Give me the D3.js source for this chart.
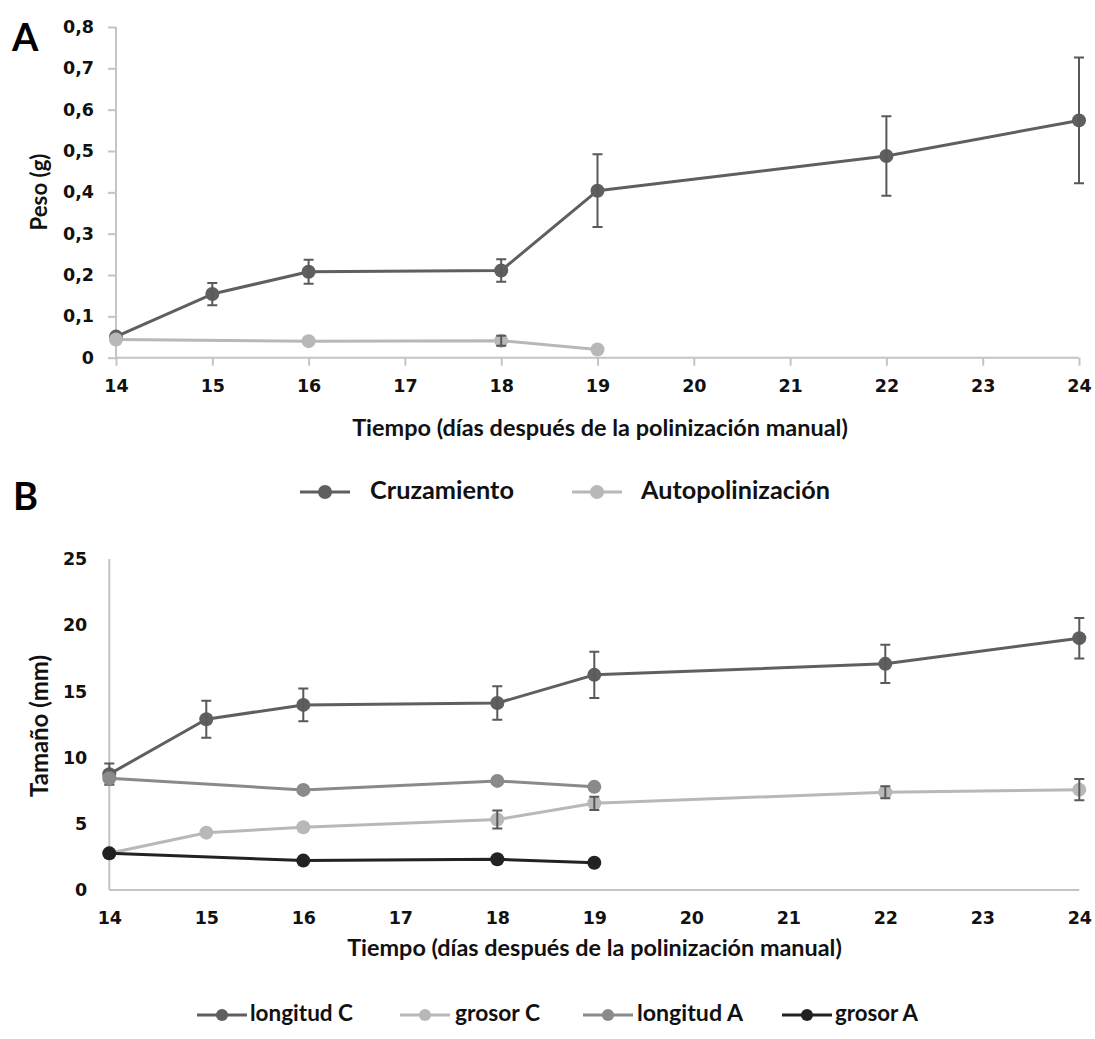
<!DOCTYPE html>
<html>
<head>
<meta charset="utf-8">
<script src="https://cdn.jsdelivr.net/npm/d3@7"></script>
<style>
  html, body { margin: 0; padding: 0; background: #fff; }
  svg { display: block; font-family: Lato, "Open Sans", sans-serif; font-weight: bold; }
</style>
</head>
<body>
<svg id="chart" width="1095" height="1039"></svg>
<script>
// ---------- DATA ----------
const xTicks = [14, 15, 16, 17, 18, 19, 20, 21, 22, 23, 24];

// Panel A: weight (g)
const cruzDays = [14, 15, 16, 18, 19, 22, 24];
const cruzPeso = [0.051, 0.154, 0.208, 0.211, 0.404, 0.488, 0.574];
const cruzErr  = [0.005, 0.027, 0.029, 0.027, 0.088, 0.096, 0.152];
const autoDays = [14, 16, 18, 19];
const autoPeso = [0.044, 0.040, 0.041, 0.020];
const autoErr  = [0.000, 0.000, 0.012, 0.000];
const yTicksA  = [0, 0.1, 0.2, 0.3, 0.4, 0.5, 0.6, 0.7, 0.8];

// Panel B: size (mm)
const longCDays = [14, 15, 16, 18, 19, 22, 24];
const longC     = [8.75, 12.9, 13.98, 14.12, 16.25, 17.08, 19.02];
const longCErr  = [0.8, 1.4, 1.23, 1.27, 1.74, 1.44, 1.53];
const grosCDays = [14, 15, 16, 18, 19, 22, 24];
const grosC     = [2.77, 4.33, 4.74, 5.32, 6.55, 7.38, 7.58];
const grosCErr  = [0, 0, 0, 0.68, 0.5, 0.45, 0.8];
const longADays = [14, 16, 18, 19];
const longA     = [8.44, 7.56, 8.24, 7.79];
const grosADays = [14, 16, 18, 19];
const grosA     = [2.77, 2.22, 2.32, 2.06];
const yTicksB   = [0, 5, 10, 15, 20, 25];

const seriesNamesA = ["Cruzamiento", "Autopolinización"];
const seriesNamesB = ["longitud C", "grosor C", "longitud A", "grosor A"];
const xTitle = "Tiempo (días después de la polinización manual)";

// ---------- STYLE ----------
const C_DARK = "#5f5f5f", C_LIGHT = "#b8b8b8", C_MID = "#8a8a8a", C_BLACK = "#222222";
const AXIS = "#c4c4c4", ERR = "#595959";
const TICK_FS = 17.5;

const svg = d3.select("#chart");

function fitText(sel, width) {
  const node = sel.node();
  const fs = parseFloat(sel.attr("font-size"));
  const w = node.getComputedTextLength();
  sel.attr("font-size", (fs * width / w).toFixed(2));
}

function drawSeries(g, x, y, xs, ys, errs, color, r) {
  const pts = xs.map((d, i) => ({x: d, y: ys[i], e: errs ? errs[i] : 0}));
  g.append("path").datum(pts)
    .attr("fill", "none").attr("stroke", color).attr("stroke-width", 3)
    .attr("stroke-linejoin", "round")
    .attr("d", d3.line().x(d => x(d.x)).y(d => y(d.y)));
  g.selectAll(null).data(pts).enter().append("circle")
    .attr("cx", d => x(d.x)).attr("cy", d => y(d.y)).attr("r", r).attr("fill", color);
  const eb = pts.filter(d => d.e > 0);
  const eg = g.append("g").attr("stroke", ERR).attr("stroke-width", 2).attr("fill", "none");
  eg.selectAll(null).data(eb).enter().append("path")
    .attr("d", d => {
      const cx = x(d.x), t = y(d.y + d.e), b = y(d.y - d.e);
      return `M${cx},${t}V${b}M${cx-5},${t}H${cx+5}M${cx-5},${b}H${cx+5}`;
    });
}

function styleAxis(a) {
  a.attr("font-size", TICK_FS).attr("font-family", "'DejaVu Sans', sans-serif");
  a.select(".domain").attr("stroke", AXIS).attr("stroke-width", 2);
  a.selectAll(".tick line").attr("stroke", AXIS).attr("stroke-width", 2);
  a.selectAll("text").attr("fill", "#111").attr("font-size", TICK_FS).attr("font-weight", "bold")
    .attr("font-family", "'DejaVu Sans', sans-serif");
}

// ---------- PANEL A ----------
{
  const x = d3.scaleLinear().domain([14, 24]).range([116, 1079]);
  const y = d3.scaleLinear().domain([0, 0.8]).range([357.7, 27]);
  const g = svg.append("g");

  const fmt = v => v === 0 ? "0" : d3.format(".1f")(v).replace(".", ",");
  const ya = g.append("g").attr("transform", "translate(116,0)")
    .call(d3.axisLeft(y).tickValues(yTicksA).tickSize(8).tickPadding(14).tickFormat(fmt));
  const xa = g.append("g").attr("transform", "translate(0,357.7)")
    .call(d3.axisBottom(x).tickValues(xTicks).tickSize(8).tickPadding(14).tickFormat(d3.format("d")));
  styleAxis(ya); styleAxis(xa);
  ya.select(".domain").attr("d", "M0,27V357.7");
  xa.select(".domain").attr("d", "M116,0H1079");

  drawSeries(g, x, y, cruzDays, cruzPeso, cruzErr, C_DARK, 7);
  drawSeries(g, x, y, autoDays, autoPeso, autoErr, C_LIGHT, 7);

  g.append("text").text("A").attr("x", 12).attr("y", 51)
    .attr("font-size", 38).attr("font-weight", "bold").attr("fill", "#000");

  const yl = g.append("text").text("Peso (g)").attr("transform", "translate(47,192) rotate(-90)")
    .attr("text-anchor", "middle").attr("font-size", 18).attr("fill", "#111");
  fitText(yl, 77);

  const t = g.append("text").text(xTitle).attr("x", 600).attr("y", 436)
    .attr("text-anchor", "middle").attr("font-size", 19).attr("fill", "#111");
  fitText(t, 496);

  const leg = g.append("g");
  const items = [
    {name: seriesNamesA[0], color: C_DARK, x0: 300, tx: 370, tw: 144},
    {name: seriesNamesA[1], color: C_LIGHT, x0: 572, tx: 641, tw: 189}
  ];
  items.forEach(it => {
    leg.append("line").attr("x1", it.x0).attr("x2", it.x0 + 50).attr("y1", 492).attr("y2", 492)
      .attr("stroke", it.color).attr("stroke-width", 3);
    leg.append("circle").attr("cx", it.x0 + 25).attr("cy", 492).attr("r", 7).attr("fill", it.color);
    const tt = leg.append("text").text(it.name).attr("x", it.tx).attr("y", 499)
      .attr("font-size", 21).attr("fill", "#111");
    fitText(tt, it.tw);
  });
}

// ---------- PANEL B ----------
{
  const x = d3.scaleLinear().domain([14, 24]).range([109.3, 1079.3]);
  const y = d3.scaleLinear().domain([0, 25]).range([890, 559]);
  const g = svg.append("g");

  const ya = g.append("g").attr("transform", "translate(109.3,0)")
    .call(d3.axisLeft(y).tickValues(yTicksB).tickSize(0).tickPadding(22).tickFormat(d3.format("d")));
  const xa = g.append("g").attr("transform", "translate(0,890)")
    .call(d3.axisBottom(x).tickValues(xTicks).tickSize(0).tickPadding(22).tickFormat(d3.format("d")));
  styleAxis(ya); styleAxis(xa);
  ya.select(".domain").attr("d", "M0,559V890");
  xa.select(".domain").attr("d", "M109.3,0H1079.3");

  drawSeries(g, x, y, longCDays, longC, longCErr, C_DARK, 7);
  drawSeries(g, x, y, grosCDays, grosC, grosCErr, C_LIGHT, 7);
  drawSeries(g, x, y, longADays, longA, null, C_MID, 7);
  drawSeries(g, x, y, grosADays, grosA, null, C_BLACK, 7);

  g.append("text").text("B").attr("x", 13).attr("y", 510)
    .attr("font-size", 38).attr("font-weight", "bold").attr("fill", "#000");

  const yl = g.append("text").text("Tamaño (mm)").attr("transform", "translate(48,726) rotate(-90)")
    .attr("text-anchor", "middle").attr("font-size", 18).attr("fill", "#111");
  fitText(yl, 142);

  const t = g.append("text").text(xTitle).attr("x", 594.5).attr("y", 956)
    .attr("text-anchor", "middle").attr("font-size", 19).attr("fill", "#111");
  fitText(t, 495);

  const leg = g.append("g");
  const items = [
    {name: seriesNamesB[0], color: C_DARK, x0: 197, tx: 250, tw: 103},
    {name: seriesNamesB[1], color: C_LIGHT, x0: 400, tx: 455, tw: 85},
    {name: seriesNamesB[2], color: C_MID, x0: 583, tx: 637, tw: 106},
    {name: seriesNamesB[3], color: C_BLACK, x0: 782, tx: 835, tw: 83}
  ];
  items.forEach(it => {
    leg.append("line").attr("x1", it.x0).attr("x2", it.x0 + 50).attr("y1", 1015).attr("y2", 1015)
      .attr("stroke", it.color).attr("stroke-width", 3);
    leg.append("circle").attr("cx", it.x0 + 25).attr("cy", 1015).attr("r", 6).attr("fill", it.color);
    const tt = leg.append("text").text(it.name).attr("x", it.tx).attr("y", 1021)
      .attr("font-size", 19).attr("fill", "#111");
    fitText(tt, it.tw);
  });
}
</script>
</body>
</html>
